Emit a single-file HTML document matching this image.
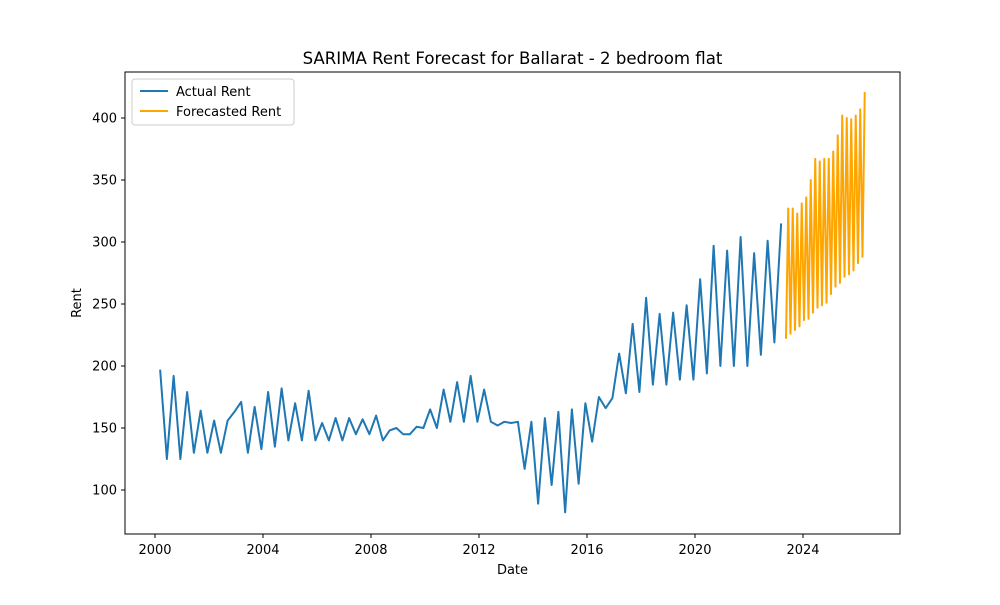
<!DOCTYPE html>
<html><head><meta charset="utf-8"><style>
body{margin:0;background:#fff;font-family:"Liberation Sans","DejaVu Sans",sans-serif}
svg text{font-family:"DejaVu Sans","Liberation Sans",sans-serif;fill:#000}
</style></head><body>
<svg id="chart" width="1000" height="600" xmlns="http://www.w3.org/2000/svg">
<rect width="1000" height="600" fill="#fff"/>
<text x="512.5" y="64" font-size="16.6" text-anchor="middle">SARIMA Rent Forecast for Ballarat - 2 bedroom flat</text>
<g id="plot"></g>
<rect x="125" y="72" width="775" height="462" fill="none" stroke="#000" stroke-width="1"/>
<g id="ticks"></g>
<text x="512.5" y="574" font-size="13" text-anchor="middle">Date</text>
<text x="0" y="0" font-size="13" text-anchor="middle" transform="translate(81,303) rotate(-90)">Rent</text>
<g>
<rect x="132" y="79" width="162" height="46" fill="#fff" fill-opacity="0.8" stroke="#ccc" rx="3"/>
<line x1="140" y1="91" x2="168" y2="91" stroke="#1f77b4" stroke-width="2"/>
<text x="176" y="96" font-size="13">Actual Rent</text>
<line x1="140" y1="111" x2="168" y2="111" stroke="#ffa500" stroke-width="2"/>
<text x="176" y="116" font-size="13">Forecasted Rent</text>
</g>
</svg>
<script>
const actualStart = 2000.19;
const actualStep = 0.25;
const actualValues = [197,125,192,125,179,130,164,130,156,130,156,163,171,130,167,133,179,135,182,140,170,140,180,140,154,140,158,140,158,145,157,145,160,140,148,150,145,145,151,150,165,150,181,155,187,155,192,155,181,155,152,155,154,155,117,155,89,158,104,163,82,165,105,170,139,175,166,174,210,178,234,179,255,185,242,185,243,189,249,189,270,194,297,200,293,200,304,200,291,209,301,219,315];
const forecastStart = 2023.37;
const forecastStep = 1/12;
const forecastValues = [222,327,226,327,229,323,232,331,237,336,238,350,243,367,247,365,249,367,251,367,258,373,264,386,267,402,272,400,274,399,277,402,283,407,288,421];
const xTicks = [2000,2004,2008,2012,2016,2020,2024];
const yTicks = [100,150,200,250,300,350,400];

const X = yr => 155 + (yr - 2000) * 27;
const Y = v => 118 + (400 - v) * 1.24;
const NS = "http://www.w3.org/2000/svg";
const plot = document.getElementById('plot');
const ticks = document.getElementById('ticks');

function series(vals, start, step, color, name) {
  const p = document.createElementNS(NS, 'polyline');
  p.setAttribute('points', vals.map((v, i) => X(start + i * step).toFixed(2) + ',' + Y(v).toFixed(2)).join(' '));
  p.setAttribute('fill', 'none');
  p.setAttribute('stroke', color);
  p.setAttribute('stroke-width', '2');
  p.setAttribute('stroke-linejoin', 'round');
  
  
  plot.appendChild(p);
}
series(actualValues, actualStart, actualStep, '#1f77b4', 'actual-rent-line');
series(forecastValues, forecastStart, forecastStep, '#ffa500', 'forecast-rent-line');

xTicks.forEach(t => {
  const l = document.createElementNS(NS, 'line');
  l.setAttribute('x1', X(t)); l.setAttribute('x2', X(t));
  l.setAttribute('y1', 534); l.setAttribute('y2', 538);
  l.setAttribute('stroke', '#000');
  
  
  ticks.appendChild(l);
  const tx = document.createElementNS(NS, 'text');
  tx.setAttribute('x', X(t)); tx.setAttribute('y', 554);
  tx.setAttribute('font-size', '13'); tx.setAttribute('text-anchor', 'middle');
  tx.textContent = t;
  
  
  ticks.appendChild(tx);
});
yTicks.forEach(t => {
  const l = document.createElementNS(NS, 'line');
  l.setAttribute('x1', 121); l.setAttribute('x2', 125);
  l.setAttribute('y1', Y(t)); l.setAttribute('y2', Y(t));
  l.setAttribute('stroke', '#000');
  
  
  ticks.appendChild(l);
  const tx = document.createElementNS(NS, 'text');
  tx.setAttribute('x', 117); tx.setAttribute('y', Y(t) + 4.5);
  tx.setAttribute('font-size', '13'); tx.setAttribute('text-anchor', 'end');
  tx.textContent = t;
  
  
  ticks.appendChild(tx);
});
</script>
</body></html>
